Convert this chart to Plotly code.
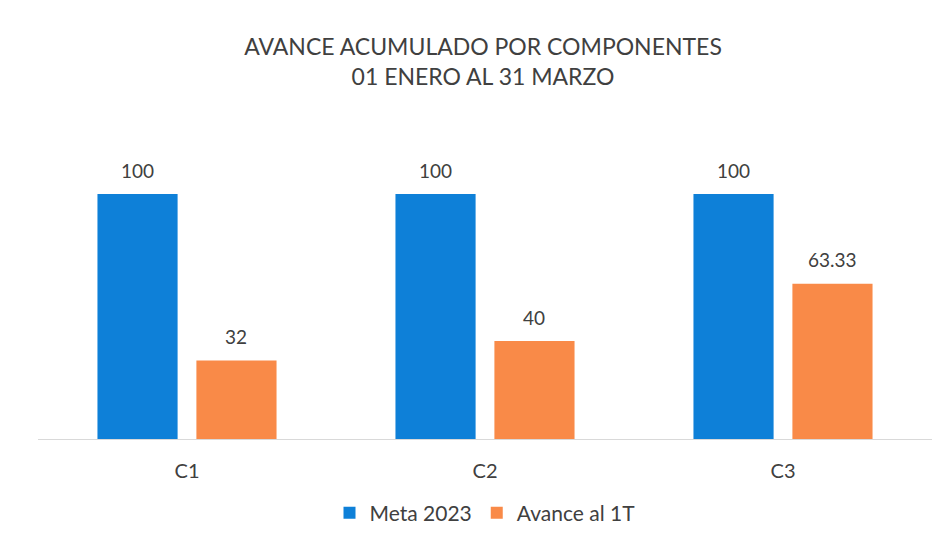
import plotly.graph_objects as go

categories = ["C1", "C2", "C3"]
meta_2023 = [100, 100, 100]
avance_1t = [32, 40, 63.33]
meta_labels = ["100", "100", "100"]
avance_labels = ["32", "40", "63.33"]

FONT = "Lato"
TXT = "#404040"
BARGAP = 0.336
GROUPGAP = 0.19

fig = go.Figure()
fig.add_trace(go.Bar(
    x=categories, y=meta_2023, name="Meta 2023",
    marker=dict(color="#0E80D8", line=dict(width=0)),
))
fig.add_trace(go.Bar(
    x=categories, y=avance_1t, name="Avance al 1T",
    marker=dict(color="#F98A48", line=dict(width=0)),
))

# data labels placed above each bar (offset within group from the bar layout)
slot = (1 - BARGAP) / 2
series = [(meta_2023, meta_labels, -slot / 2), (avance_1t, avance_labels, slot / 2)]
for vals, labels, off in series:
    for j, (v, lab) in enumerate(zip(vals, labels)):
        fig.add_annotation(
            x=j + off, y=v, xref="x", yref="y", text=lab, showarrow=False,
            yshift=24, yanchor="middle",
            font=dict(size=19, color=TXT, family=FONT),
        )

fig.update_layout(
    width=950, height=540,
    paper_bgcolor="white", plot_bgcolor="white",
    margin=dict(l=30, r=26, t=137, b=109),
    barmode="group", bargap=BARGAP, bargroupgap=GROUPGAP,
    title=dict(
        text="AVANCE ACUMULADO POR COMPONENTES<br>01 ENERO AL 31 MARZO",
        x=0.5, xanchor="center", y=0.913, yanchor="top",
        font=dict(size=23, color=TXT, family=FONT),
    ),
    font=dict(family=FONT, color=TXT),
    legend=dict(
        orientation="h", x=0.5, xanchor="center", y=-0.252, yanchor="middle",
        font=dict(size=21, color=TXT, family=FONT),
        itemwidth=30,
    ),
)
fig.update_xaxes(
    showline=True, linecolor="#D9D9D9", linewidth=1,
    showgrid=False, ticks="", ticklabelstandoff=14,
    tickfont=dict(size=20, color=TXT, family=FONT),
)
fig.update_yaxes(
    range=[0, 120], visible=False, showgrid=False, zeroline=False,
)

fig.write_html("out.html")
